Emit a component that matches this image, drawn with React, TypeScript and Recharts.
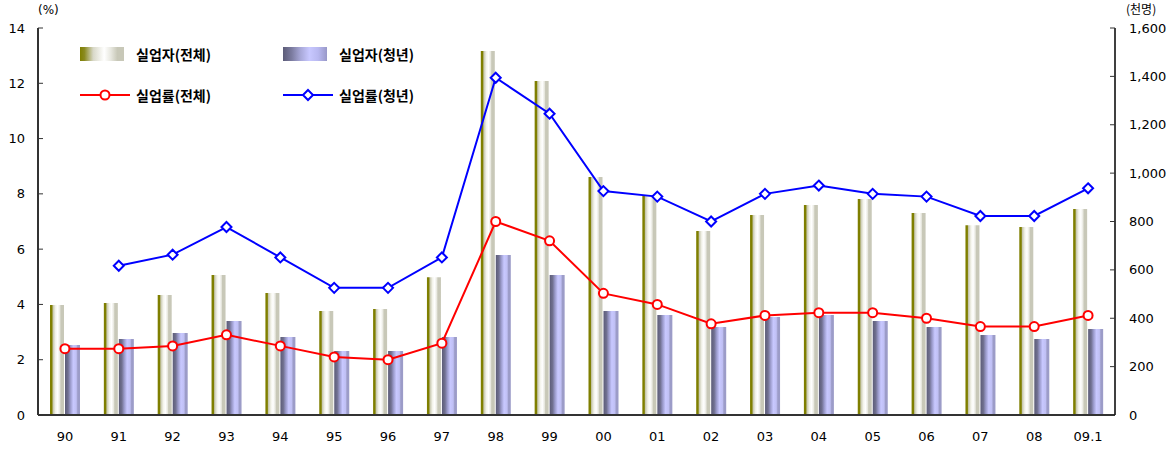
import {
  ComposedChart, Bar, Line, XAxis, YAxis, Legend,
} from 'recharts'

const YEARS = ['90', '91', '92', '93', '94', '95', '96', '97', '98', '99', '00', '01', '02', '03', '04', '05', '06', '07', '08', '09.1']
// 실업자 (천명)
const UNEMP_TOTAL = [455, 463, 496, 579, 504, 430, 438, 570, 1505, 1381, 984, 905, 761, 827, 868, 893, 835, 785, 777, 852]
const UNEMP_YOUTH = [289, 314, 339, 389, 322, 265, 265, 322, 661, 579, 430, 413, 364, 405, 413, 389, 364, 331, 314, 356]
// 실업률 (%)
const RATE_TOTAL = [2.4, 2.4, 2.5, 2.9, 2.5, 2.1, 2.0, 2.6, 7.0, 6.3, 4.4, 4.0, 3.3, 3.6, 3.7, 3.7, 3.5, 3.2, 3.2, 3.6]
const RATE_YOUTH = [null, 5.4, 5.8, 6.8, 5.7, 4.6, 4.6, 5.7, 12.2, 10.9, 8.1, 7.9, 7.0, 8.0, 8.3, 8.0, 7.9, 7.2, 7.2, 8.2]
const LEFT_TICKS = [0, 2, 4, 6, 8, 10, 12, 14]
const RIGHT_TICKS = [0, 200, 400, 600, 800, 1000, 1200, 1400, 1600]

const data = YEARS.map((y, i) => ({
  year: y,
  total: UNEMP_TOTAL[i],
  youth: UNEMP_YOUTH[i],
  rateTotal: RATE_TOTAL[i],
  rateYouth: RATE_YOUTH[i],
}))

const numFont = '"DejaVu Sans", Verdana, sans-serif'
const krFont = '"Noto Sans CJK KR", sans-serif'
const tickStyle = { fontSize: 13, fill: '#000', fontFamily: numFont }

const OLIVE_CSS = 'linear-gradient(to right, #7f7f00 0%, #8a8a20 10%, #d8d8c8 30%, #ffffff 55%, #e8e8e0 70%, #c8c8b8 85%, #c8c8b8 100%)'
const BLUE_CSS = 'linear-gradient(to right, #5c5c78 0%, #7c7ca0 20%, #a8a8d8 40%, #c8c8ff 60%, #b8b8f0 80%, #9898c8 100%)'

function Diamond(props: any) {
  const { cx, cy, value } = props
  if (value == null || cx == null || cy == null) return <g />
  const r = 5
  return (
    <path
      d={`M${cx},${cy - r} L${cx + r},${cy} L${cx},${cy + r} L${cx - r},${cy} Z`}
      fill="#fff" stroke="#0000ff" strokeWidth={2}
    />
  )
}

function LegendBox() {
  const label = { fontFamily: krFont, fontSize: 14, fontWeight: 700, color: '#000', lineHeight: '16px' }
  const item = (swatch: any, text: string) => (
    <div style={{ display: 'flex', alignItems: 'center', width: 203 }}>
      <div style={{ width: 56, display: 'flex', alignItems: 'center' }}>{swatch}</div>
      <span style={label}>{text}</span>
    </div>
  )
  const lineSwatch = (color: string, marker: any) => (
    <svg width={50} height={14}>
      <line x1={0} y1={7} x2={50} y2={7} stroke={color} strokeWidth={2} />
      {marker}
    </svg>
  )
  return (
    <div style={{ display: 'flex', flexDirection: 'column', gap: 25 }}>
      <div style={{ display: 'flex' }}>
        {item(<div style={{ width: 44, height: 14, background: OLIVE_CSS }} />, '실업자(전체)')}
        {item(<div style={{ width: 44, height: 14, background: BLUE_CSS }} />, '실업자(청년)')}
      </div>
      <div style={{ display: 'flex' }}>
        {item(lineSwatch('#ff0000', <circle cx={25} cy={7} r={4.5} fill="#fff" stroke="#ff0000" strokeWidth={2} />), '실업률(전체)')}
        {item(lineSwatch('#0000ff', <path d="M25,2 L30,7 L25,12 L20,7 Z" fill="#fff" stroke="#0000ff" strokeWidth={2} />), '실업률(청년)')}
      </div>
    </div>
  )
}

export default function App() {
  return (
    <div style={{ position: 'absolute', left: 0, top: 0, width: 1175, height: 452, background: '#fff' }}>
      <div style={{ position: 'absolute', left: 38, top: 3, fontSize: 12, lineHeight: '14px', fontFamily: numFont }}>(%)</div>
      <div style={{ position: 'absolute', left: 1126, top: 2, fontSize: 12, lineHeight: '14px', fontFamily: krFont }}>(천명)</div>
      <ComposedChart
        width={1175}
        height={452}
        data={data}
        margin={{ top: 28, right: 0, left: 0, bottom: 0 }}
        barGap={1}
        barCategoryGap={0}
      >
        <defs>
          <linearGradient id="oliveGrad" x1="0" y1="0" x2="1" y2="0">
            <stop offset="0%" stopColor="#7f7f00" />
            <stop offset="14%" stopColor="#7f7f00" />
            <stop offset="22%" stopColor="#c8c8b0" />
            <stop offset="40%" stopColor="#f4f4ec" />
            <stop offset="55%" stopColor="#ffffff" />
            <stop offset="70%" stopColor="#e8e8e0" />
            <stop offset="78%" stopColor="#c8c8b8" />
            <stop offset="100%" stopColor="#c8c8b8" />
          </linearGradient>
          <linearGradient id="blueGrad" x1="0" y1="0" x2="1" y2="0">
            <stop offset="0%" stopColor="#5c5c78" />
            <stop offset="20%" stopColor="#707090" />
            <stop offset="35%" stopColor="#9898c8" />
            <stop offset="55%" stopColor="#c8c8ff" />
            <stop offset="75%" stopColor="#c0c0f4" />
            <stop offset="85%" stopColor="#9c9cc8" />
            <stop offset="100%" stopColor="#9c9cc8" />
          </linearGradient>
        </defs>
        <XAxis
          dataKey="year"
          tick={tickStyle}
          tickLine={false}
          tickSize={0}
          tickMargin={17}
          height={37}
          axisLine={{ stroke: '#333', strokeWidth: 2 }}
          interval={0}
        />
        <YAxis
          yAxisId="rate"
          orientation="left"
          domain={[0, 14]}
          ticks={LEFT_TICKS}
          width={38}
          tick={tickStyle}
          tickSize={-5}
          tickMargin={18}
          tickLine={{ stroke: '#333' }}
          axisLine={{ stroke: '#333', strokeWidth: 2 }}
          interval={0}
        />
        <YAxis
          yAxisId="count"
          orientation="right"
          domain={[0, 1600]}
          ticks={RIGHT_TICKS}
          width={60}
          tick={{ ...tickStyle, textAnchor: 'start' }}
          tickFormatter={(v: number) => v.toLocaleString('en-US')}
          tickSize={-5}
          tickMargin={19}
          tickLine={{ stroke: '#333' }}
          axisLine={{ stroke: '#000', strokeWidth: 1.5 }}
          interval={0}
        />
        <Legend
          layout="horizontal"
          verticalAlign="middle"
          align="center"
          content={() => <LegendBox />}
          wrapperStyle={{ top: 46, left: 80, width: 420 }}
        />
        <Bar yAxisId="count" dataKey="total" name="실업자(전체)" fill="url(#oliveGrad)" barSize={14} isAnimationActive={false} />
        <Bar yAxisId="count" dataKey="youth" name="실업자(청년)" fill="url(#blueGrad)" barSize={15} isAnimationActive={false} />
        <Line
          yAxisId="rate"
          type="linear"
          dataKey="rateTotal"
          name="실업률(전체)"
          stroke="#ff0000"
          strokeWidth={2}
          dot={{ r: 4.5, fill: '#fff', stroke: '#ff0000', strokeWidth: 2 }}
          activeDot={false}
          isAnimationActive={false}
        />
        <Line
          yAxisId="rate"
          type="linear"
          dataKey="rateYouth"
          name="실업률(청년)"
          stroke="#0000ff"
          strokeWidth={2}
          dot={<Diamond />}
          activeDot={false}
          connectNulls={false}
          isAnimationActive={false}
        />
      </ComposedChart>
    </div>
  )
}
